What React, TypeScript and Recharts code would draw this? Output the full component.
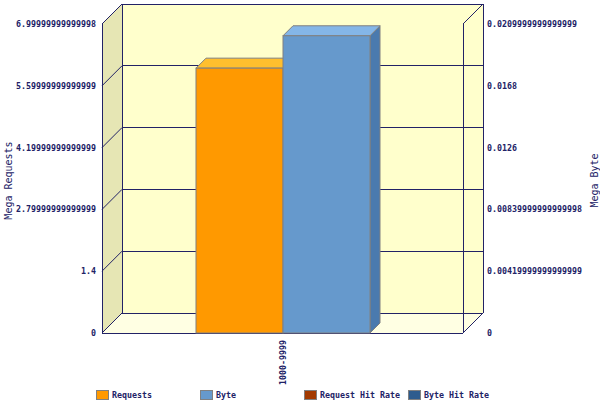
import React from 'react';
import { ComposedChart, Bar, XAxis, YAxis, CartesianGrid } from 'recharts';

const categories = ['1000-9999'];
const requests = [6.0];
const bytes = [0.0202];

const leftTicks = [0, 1.4, 2.8, 4.2, 5.6, 7];
const leftTickLabels = ['0', '1.4', '2.79999999999999', '4.19999999999999', '5.59999999999999', '6.99999999999998'];
const rightTicks = [0, 0.0042, 0.0084, 0.0126, 0.0168, 0.021];
const rightTickLabels = ['0', '0.00419999999999999', '0.00839999999999998', '0.0126', '0.0168', '0.0209999999999999'];

const legendNames = ['Requests', 'Byte', 'Request Hit Rate', 'Byte Hit Rate'];
const legendColors = ['#FF9900', '#6699CC', '#A33A00', '#2E5C8E'];

const chartData = categories.map((name, i) => ({ name, requests: requests[i], bytes: bytes[i] }));

// layout of the pseudo 3d box
const W = 600;
const H = 400;
const PL = 102;
const PR = 463;
const PT = 24;
const PB = 333;
const D = 20;
const LINE = '#222266';
const FONT = '"DejaVu Sans Mono", monospace';

// walls + frame, drawn under the recharts svg
const Background3D = () => (
  <svg width={W} height={H} style={{ position: 'absolute', left: 0, top: 0 }}>
    <rect x={PL + D} y={PT - D} width={PR - PL} height={PB - PT} fill="#FFFFCC" />
    <polygon points={`${PL},${PT} ${PL + D},${PT - D} ${PL + D},${PB - D} ${PL},${PB}`} fill="#E6E6B4" />
    <polygon points={`${PL},${PB} ${PL + D},${PB - D} ${PR + D},${PB - D} ${PR},${PB}`} fill="#FFFFE3" />
    <g stroke={LINE} strokeWidth={1} fill="none" shapeRendering="crispEdges">
      <line x1={PL + D} y1={PT - D} x2={PL + D} y2={PB - D} />
      <line x1={PR + D} y1={PT - D} x2={PR + D} y2={PB - D} />
      <line x1={PL} y1={PT} x2={PL} y2={PB} />
      <line x1={PR} y1={PT} x2={PR} y2={PB} />
      <line x1={PL} y1={PB} x2={PR} y2={PB} />
    </g>
    <g stroke={LINE} strokeWidth={1}>
      <line x1={PR} y1={PT} x2={PR + D} y2={PT - D} />
      <line x1={PR} y1={PB} x2={PR + D} y2={PB - D} />
    </g>
    <text x={8} y={(PT + PB) / 2 + 2} transform={`rotate(-90, 8, ${(PT + PB) / 2 + 2})`} textAnchor="middle"
      dominantBaseline="central" fontFamily={FONT} fontSize={10} fill={LINE}>Mega Requests</text>
    <text x={594} y={(PT + PB) / 2 + 2} transform={`rotate(-90, 594, ${(PT + PB) / 2 + 2})`} textAnchor="middle"
      dominantBaseline="central" fontFamily={FONT} fontSize={10} fill={LINE}>Mega Byte</text>
  </svg>
);

const gridLine = (props: any) => {
  const { x1, x2, y1, key } = props;
  return (
    <g key={key} stroke={LINE} strokeWidth={1}>
      <line x1={x1} y1={y1} x2={x1 + D} y2={y1 - D} />
      <line x1={x1 + D} y1={y1 - D} x2={x2 + D} y2={y1 - D} shapeRendering="crispEdges" />
    </g>
  );
};

const makeBar = (front: string, top: string, side: string) => (props: any) => {
  const { x, y, width, height } = props;
  const d = 10;
  return (
    <g stroke="#808080" strokeWidth={1}>
      <polygon points={`${x + width},${y} ${x + width + d},${y - d} ${x + width + d},${y + height - d} ${x + width},${y + height}`} fill={side} />
      <polygon points={`${x},${y} ${x + d},${y - d} ${x + width + d},${y - d} ${x + width},${y}`} fill={top} />
      <rect x={x} y={y} width={width} height={height} fill={front} />
    </g>
  );
};

const XTick = (props: any) => {
  const { x, payload } = props;
  const y = PB + 7;
  return (
    <text x={x} y={y} transform={`rotate(-90, ${x}, ${y})`} textAnchor="end" dominantBaseline="central"
      fontFamily={FONT} fontSize={8.3} fontWeight="bold" fill={LINE}>{payload.value}</text>
  );
};

const tickStyle = { fontFamily: FONT, fontSize: 8.3, fontWeight: 'bold', fill: LINE };

export default function App() {
  return (
    <div style={{ position: 'absolute', left: 0, top: 0, width: W, height: H, background: '#fff' }}>
      <Background3D />
      <div style={{ position: 'absolute', left: 0, top: 0 }}>
        <ComposedChart width={W} height={H} data={chartData}
          margin={{ top: PT, right: 0, bottom: 0, left: 0 }} barGap={0}>
          <CartesianGrid yAxisId="left" vertical={false} horizontal={gridLine} />
          <XAxis dataKey="name" height={H - PB} axisLine={false} tickLine={false} tick={<XTick />} />
          <YAxis yAxisId="left" orientation="left" width={PL} domain={[0, 7]} ticks={leftTicks}
            axisLine={false} tickLine={false} tickSize={0} tickMargin={6} interval={0}
            tickFormatter={(_v: number, i: number) => leftTickLabels[i]} tick={tickStyle} />
          <YAxis yAxisId="right" orientation="right" width={W - PR} domain={[0, 0.021]} ticks={rightTicks}
            axisLine={false} tickLine={false} tickSize={0} tickMargin={24} interval={0}
            tickFormatter={(_v: number, i: number) => rightTickLabels[i]} tick={tickStyle} />
          <Bar yAxisId="left" dataKey="requests" name="Requests" barSize={87} isAnimationActive={false}
            shape={makeBar('#FF9900', '#FFBF2E', '#CC7A00')} />
          <Bar yAxisId="right" dataKey="bytes" name="Byte" barSize={87} isAnimationActive={false}
            shape={makeBar('#6699CC', '#84B6E8', '#4A7AAE')} />
        </ComposedChart>
      </div>
      {legendNames.map((n, i) => (
        <div key={n} style={{ position: 'absolute', left: 96 + i * 104, top: 389, height: 11, display: 'flex', alignItems: 'center',
          fontFamily: FONT, fontSize: 8.3, fontWeight: 'bold', color: LINE, whiteSpace: 'nowrap' }}>
          <span style={{ display: 'inline-block', width: 11, height: 8, background: legendColors[i], border: '1px solid #808080', marginRight: 3 }} />
          {n}
        </div>
      ))}
    </div>
  );
}
